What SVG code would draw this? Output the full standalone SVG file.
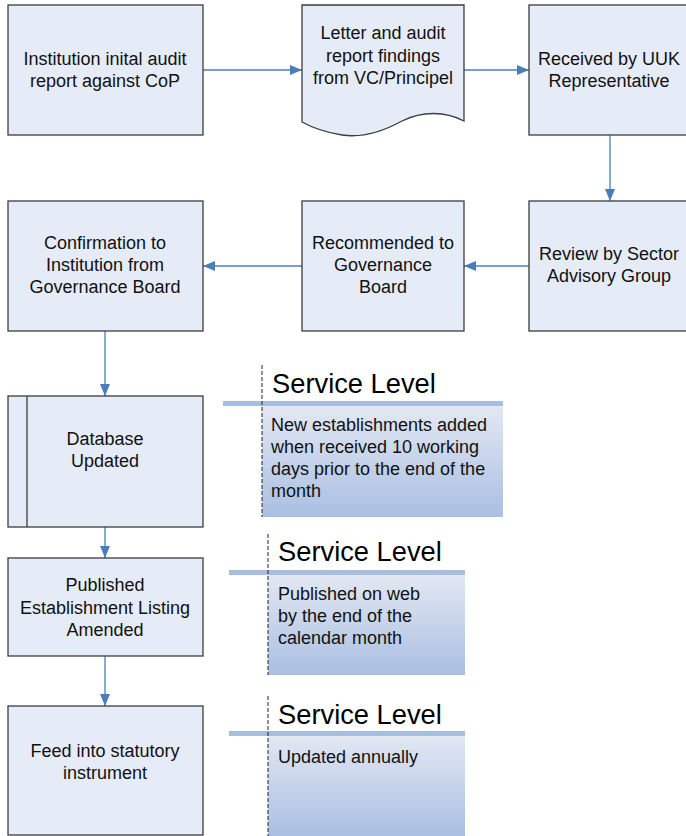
<svg xmlns="http://www.w3.org/2000/svg" width="686" height="836" viewBox="0 0 686 836">
<defs>
<style>
.box{fill:#e6ecf7;stroke:#3c3c3c;stroke-width:1.3}
.t{font-family:"Liberation Sans",Arial,sans-serif;font-size:18px;fill:#111;text-anchor:middle}
.sl{font-family:"Liberation Sans",Arial,sans-serif;font-size:27.3px;fill:#000}
.st{font-family:"Liberation Sans",Arial,sans-serif;font-size:18px;fill:#111}
.conn{stroke:#4a7ebb;stroke-width:1.3;fill:none}
.bar{fill:#a8bee0}
.dash{stroke:#222;stroke-width:1;stroke-dasharray:4,2}
</style>
<marker id="ah" markerWidth="12" markerHeight="10" refX="12" refY="5" orient="auto" markerUnits="userSpaceOnUse">
<path d="M0,0 L12,5 L0,10 Z" fill="#4a7ebb"/>
</marker>
<linearGradient id="g" x1="0" y1="0" x2="0" y2="1">
<stop offset="0" stop-color="#e3e8f3"/>
<stop offset="1" stop-color="#a9bfe2"/>
</linearGradient>
</defs>
<rect width="686" height="836" fill="#fff"/>

<g id="connectors">
<line class="conn" x1="203" y1="70" x2="302" y2="70" marker-end="url(#ah)"/>
<line class="conn" x1="464" y1="70" x2="529" y2="70" marker-end="url(#ah)"/>
<line class="conn" x1="610" y1="135" x2="610" y2="201" marker-end="url(#ah)"/>
<line class="conn" x1="529" y1="266" x2="464" y2="266" marker-end="url(#ah)"/>
<line class="conn" x1="302" y1="266" x2="203" y2="266" marker-end="url(#ah)"/>
<line class="conn" x1="105" y1="331" x2="105" y2="396" marker-end="url(#ah)"/>
<line class="conn" x1="105" y1="527" x2="105" y2="558" marker-end="url(#ah)"/>
<line class="conn" x1="105" y1="656" x2="105" y2="706" marker-end="url(#ah)"/>
</g>

<g id="n1">
<rect class="box" x="8" y="5" width="195" height="130"/>
<text class="t" x="105" y="65">Institution inital audit</text>
<text class="t" x="105" y="87">report against CoP</text>
</g>

<g id="n2">
<path class="box" d="M302,5 L464,5 L464,121 C445,111 422,111 402,121 C382,132 362,138 342,135 C324,132 311,127 302,122 Z"/>
<text class="t" x="383" y="39">Letter and audit</text>
<text class="t" x="383" y="62">report findings</text>
<text class="t" x="383" y="84">from VC/Principel</text>
</g>

<g id="n3">
<rect class="box" x="529" y="5" width="160" height="130"/>
<text class="t" x="609" y="65">Received by UUK</text>
<text class="t" x="609" y="87">Representative</text>
</g>

<g id="n4">
<rect class="box" x="529" y="201" width="160" height="130"/>
<text class="t" x="609" y="260">Review by Sector</text>
<text class="t" x="609" y="282">Advisory Group</text>
</g>

<g id="n5">
<rect class="box" x="302" y="201" width="162" height="130"/>
<text class="t" x="383" y="249">Recommended to</text>
<text class="t" x="383" y="271">Governance</text>
<text class="t" x="383" y="293">Board</text>
</g>

<g id="n6">
<rect class="box" x="8" y="201" width="195" height="130"/>
<text class="t" x="105" y="249">Confirmation to</text>
<text class="t" x="105" y="271">Institution from</text>
<text class="t" x="105" y="293">Governance Board</text>
</g>

<g id="n7">
<rect class="box" x="8" y="396" width="195" height="131"/>
<line x1="27" y1="396" x2="27" y2="527" stroke="#3c3c3c" stroke-width="1.3"/>
<text class="t" x="105" y="445">Database</text>
<text class="t" x="105" y="467">Updated</text>
</g>

<g id="n8">
<rect class="box" x="8" y="558" width="195" height="98"/>
<text class="t" x="105" y="591">Published</text>
<text class="t" x="105" y="614">Establishment Listing</text>
<text class="t" x="105" y="636">Amended</text>
</g>

<g id="n9">
<rect class="box" x="8" y="706" width="195" height="129"/>
<text class="t" x="105" y="757">Feed into statutory</text>
<text class="t" x="105" y="779">instrument</text>
</g>

<g id="sl1">
<rect x="262" y="405" width="241" height="112" fill="url(#g)"/>
<rect class="bar" x="223" y="401" width="280" height="5"/>
<line class="dash" x1="262" y1="365" x2="262" y2="517"/>
<text class="sl" x="272" y="393">Service Level</text>
<text class="st" x="271" y="431">New establishments added</text>
<text class="st" x="271" y="453">when received 10 working</text>
<text class="st" x="271" y="475">days prior to the end of the</text>
<text class="st" x="271" y="497">month</text>
</g>

<g id="sl2">
<rect x="268" y="574" width="197" height="101" fill="url(#g)"/>
<rect class="bar" x="229" y="570" width="236" height="5"/>
<line class="dash" x1="268" y1="534" x2="268" y2="675"/>
<text class="sl" x="278" y="561">Service Level</text>
<text class="st" x="278" y="600">Published on web</text>
<text class="st" x="278" y="622">by the end of the</text>
<text class="st" x="278" y="644">calendar month</text>
</g>

<g id="sl3">
<rect x="268" y="735" width="197" height="101" fill="url(#g)"/>
<rect class="bar" x="229" y="731" width="236" height="5"/>
<line class="dash" x1="268" y1="696" x2="268" y2="836"/>
<text class="sl" x="278" y="724">Service Level</text>
<text class="st" x="278" y="763">Updated annually</text>
</g>
</svg>
